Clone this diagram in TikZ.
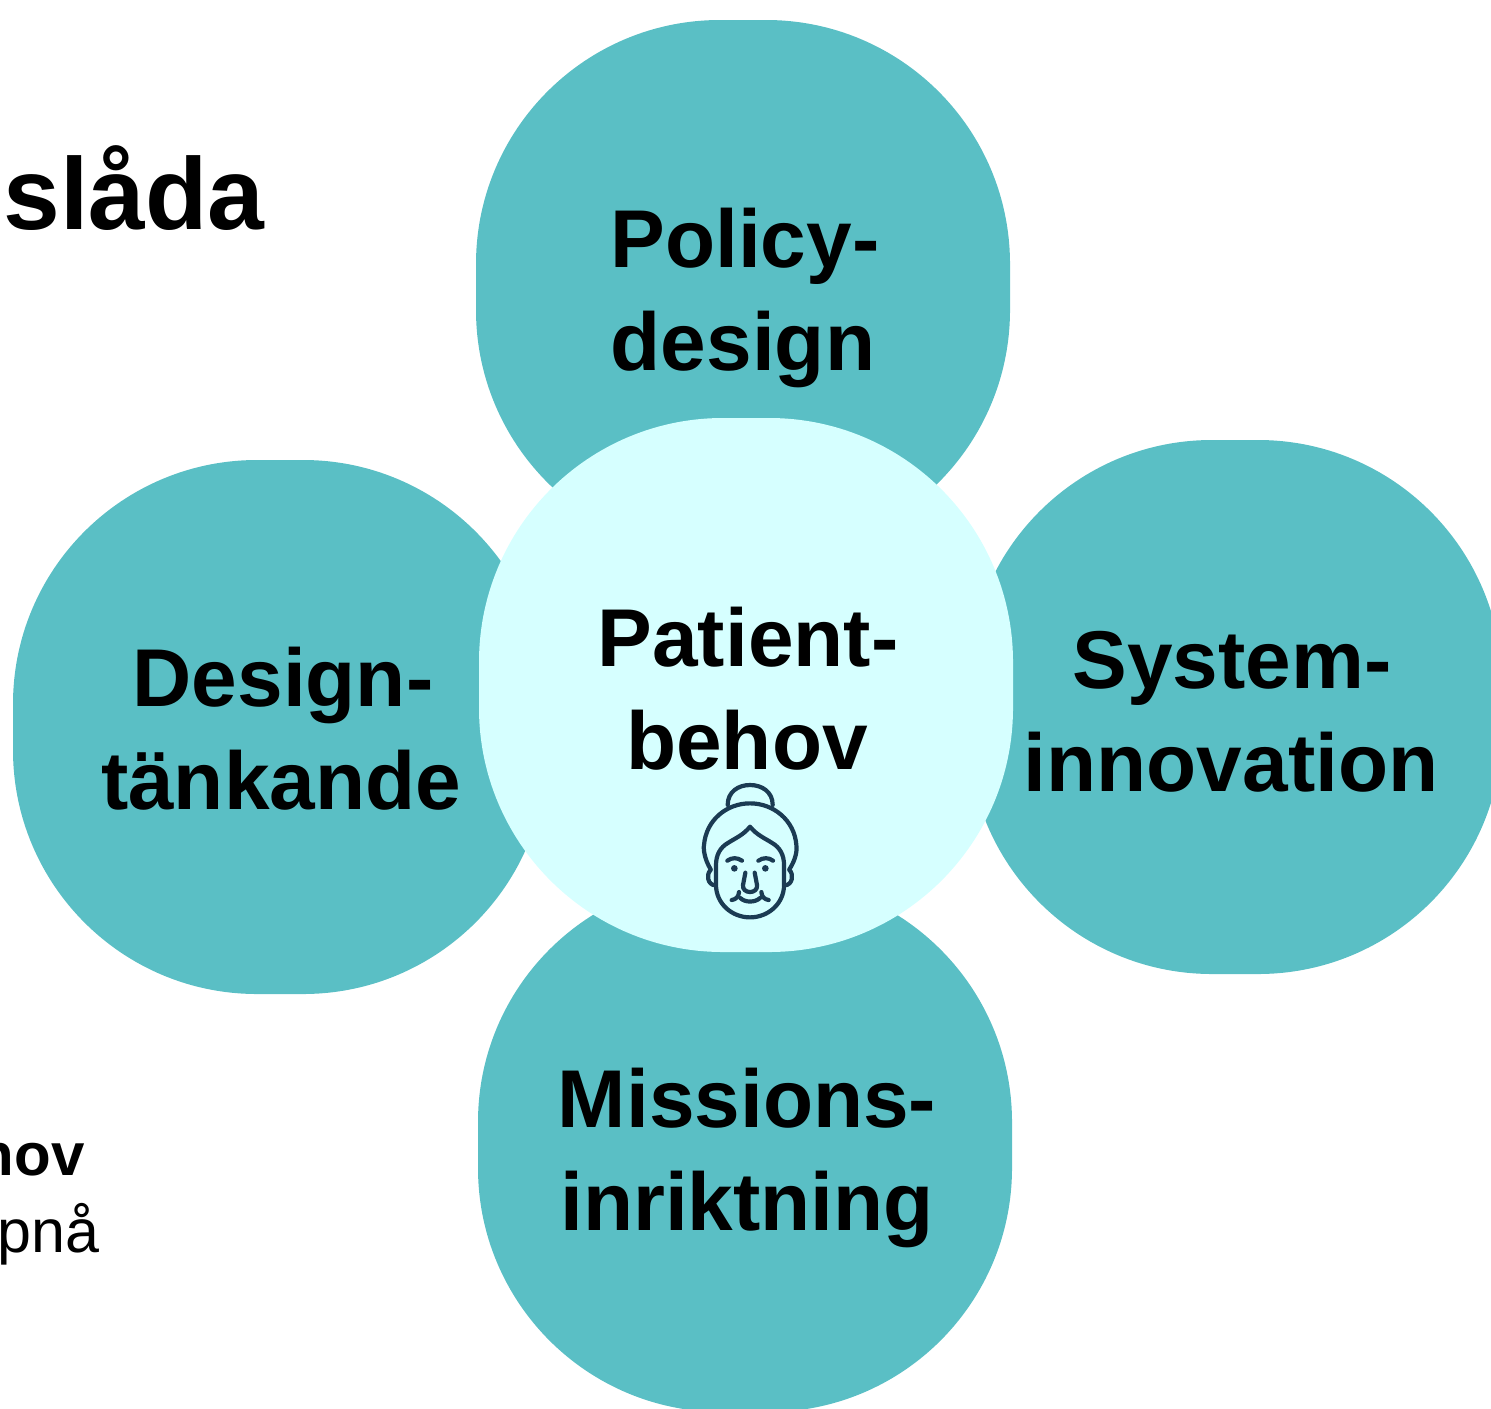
\documentclass[tikz,border=0pt]{standalone}
\usepackage{fontspec}
\setmainfont{Liberation Sans}
\definecolor{tealpetal}{HTML}{5ABFC5}
\definecolor{corepetal}{HTML}{D6FFFF}
\definecolor{faceink}{HTML}{1B3B53}
\tikzset{
  petal/.style={shape=rectangle,rounded corners=122pt,minimum width=267pt,minimum height=267pt,inner sep=0pt,fill=tealpetal,draw=none},
  core/.style={petal,fill=corepetal},
  biglabel/.style={anchor=base,inner sep=0pt,font=\fontsize{41}{41}\selectfont\bfseries,text=black},
  title/.style={anchor=base west,inner sep=0pt,font=\fontsize{51}{51}\selectfont\bfseries,text=black},
  clipbold/.style={anchor=base east,inner sep=0pt,font=\fontsize{30}{30}\selectfont\bfseries,text=black},
  clipreg/.style={anchor=base east,inner sep=0pt,font=\fontsize{30.5}{30.5}\selectfont,text=black},
  facestroke/.style={draw=faceink,line width=2.1pt,line cap=round,line join=round,fill=none}
}
\begin{document}
\begin{tikzpicture}[x=0.5pt,y=-0.5pt]
\useasboundingbox (0,0) rectangle (1491,1408);
\clip (0,0) rectangle (1491,1408);
\node[petal] (policy) at (743,287) {};
\node[petal] (design) at (280,727) {};
\node[petal] (system) at (1235,707) {};
\node[petal] (mission) at (745,1145) {};
\node[core] (patient) at (746,685) {};
\node[biglabel] (t1a) at (745,267) {Policy-};
\node[biglabel] (t1b) at (743,370) {design};
\node[biglabel] (t2a) at (283,706) {Design-};
\node[biglabel] (t2b) at (281,809) {tänkande};
\node[biglabel] (t3a) at (1232,688) {System-};
\node[biglabel] (t3b) at (1231,791) {innovation};
\node[biglabel] (t4a) at (747,1127) {Missions-};
\node[biglabel] (t4b) at (747,1230) {inriktning};
\node[biglabel] (t5a) at (748,666) {Patient-};
\node[biglabel] (t5b) at (747,769) {behov};
\node[title] (head) at (3,229) {slåda};
\node[clipbold] (frag1) at (85,1175) {hov};
\node[clipreg] (frag2) at (100,1252) {pnå};
\begin{scope}[shift={(680,770)},x=0.1667pt,y=-0.1667pt,facestroke]
  % bun
  \draw (143,105) .. controls (143,65) and (175,45) .. (210,45) .. controls (245,45) and (278,65) .. (278,105);
  % hair
  \draw (92,298) .. controls (72,265) and (70,235) .. (72,225) .. controls (78,150) and (140,100) .. (210,100) .. controls (280,100) and (343,150) .. (349,225) .. controls (351,240) and (349,265) .. (328,298);
  % face
  \draw (210,170) .. controls (190,195) and (165,205) .. (145,218) .. controls (120,232) and (108,255) .. (108,285) -- (108,345) .. controls (108,400) and (155,442) .. (210,442) .. controls (265,442) and (312,400) .. (312,345) -- (312,285) .. controls (312,255) and (300,232) .. (275,218) .. controls (255,205) and (230,195) .. (210,170) -- cycle;
  % ears
  \draw (92,300) .. controls (78,312) and (82,345) .. (106,346);
  \draw (328,300) .. controls (342,312) and (338,345) .. (314,346);
  % brows
  \draw (142,272) .. controls (155,262) and (172,262) .. (186,272);
  \draw (235,272) .. controls (249,262) and (266,262) .. (279,272);
  % nose
  \draw (196,308) -- (189,345) .. controls (187,358) and (198,366) .. (210,366) .. controls (222,366) and (233,358) .. (231,345) -- (224,308);
  % smile and cheeks
  \draw (181,384) .. controls (195,398) and (225,398) .. (240,384);
  \draw (155,390) .. controls (168,388) and (176,380) .. (177,366);
  \draw (266,390) .. controls (253,388) and (245,380) .. (244,366);
  % eyes
  \fill[faceink] (163,295) circle[radius=10];
  \fill[faceink] (256,295) circle[radius=10];
\end{scope}
\end{tikzpicture}
\end{document}
